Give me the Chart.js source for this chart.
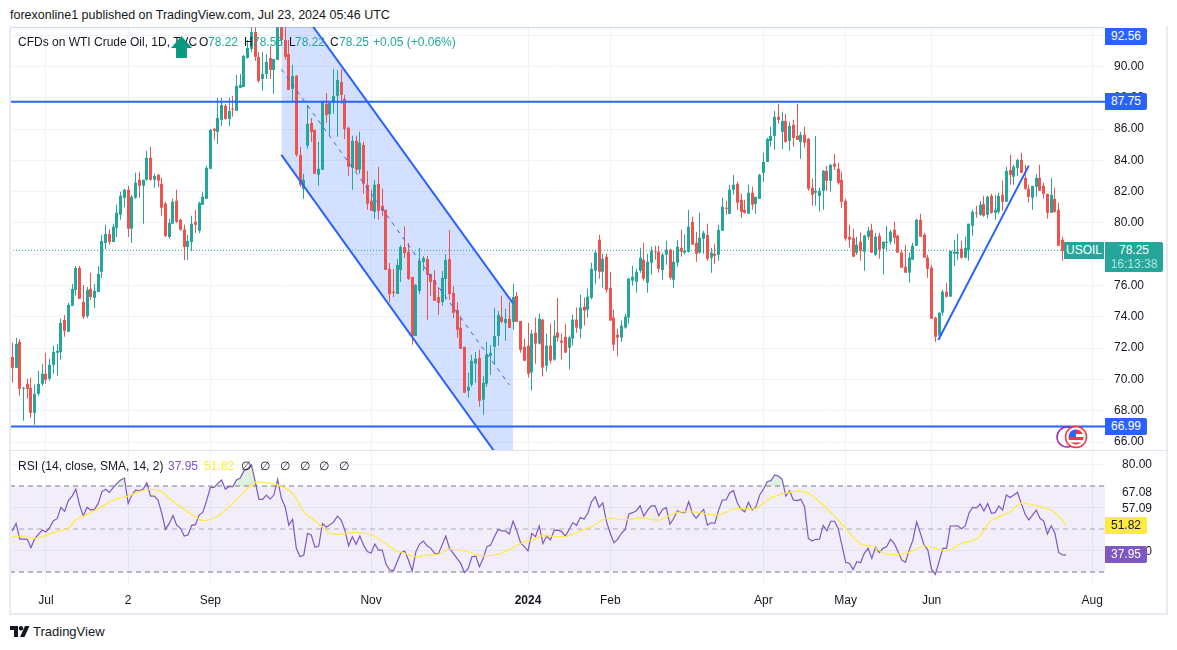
<!DOCTYPE html>
<html>
<head>
<meta charset="utf-8">
<title>USOIL</title>
<script src="https://cdn.jsdelivr.net/npm/chart.js@4"></script>
<style>
    html, body { margin: 0; padding: 0; background: #fff; }
    body { width: 1177px; height: 650px; position: relative; overflow: hidden; font-family: 'Liberation Sans', sans-serif; font-size: 12px; color: #131722; }
    canvas { position: absolute; left: 0; }
    .txt { position: absolute; white-space: nowrap; line-height: 16px; }
    .badge { position: absolute; left: 1105px; width: 42px; height: 17px; line-height: 17px; text-align: center; border-radius: 0 2px 2px 0; color: #fff; }
    .frame { position: absolute; background: #e9ebf2; }
</style>
</head>
<body>
<canvas id="priceChart" style="top:27px"></canvas>
<canvas id="rsiChart" style="top:451px"></canvas>

<div class="frame" style="left:9px;top:26px;width:2px;height:589px"></div>
<div class="frame" style="left:1166px;top:26px;width:2px;height:589px"></div>
<div class="frame" style="left:9px;top:613px;width:1159px;height:2px"></div>
<div class="frame" style="left:9px;top:450px;width:1159px;height:1px;background:#e0e3eb"></div>

<div class="txt" style="left:10px;top:7px;font-size:12.5px">forexonline1 published on TradingView.com, Jul 23, 2024 05:46 UTC</div>

<div class="txt" style="left:18px;top:34px">CFDs on WTI Crude Oil, 1D, TVC</div>
<div style="position:absolute;left:171px;top:36px;width:21px;height:22px;background:#089981;clip-path:polygon(50% 0,100% 55%,76% 55%,76% 100%,24% 100%,24% 55%,0 55%)"></div>
<div class="txt" style="left:199px;top:34px">O</div><div class="txt" style="left:208px;top:34px;color:#26a69a">78.22</div>
<div class="txt" style="left:244px;top:34px">H</div><div class="txt" style="left:253px;top:34px;color:#26a69a">78.56</div>
<div class="txt" style="left:289px;top:34px">L</div><div class="txt" style="left:295px;top:34px;color:#26a69a">78.22</div>
<div class="txt" style="left:330px;top:34px">C</div><div class="txt" style="left:339px;top:34px;color:#26a69a">78.25</div>
<div class="txt" style="left:373px;top:34px;color:#26a69a">+0.05 (+0.06%)</div>

<div class="txt" style="left:18px;top:458px">RSI (14, close, SMA, 14, 2)</div>
<div class="txt" style="left:168px;top:458px;color:#7e57c2">37.95</div>
<div class="txt" style="left:204px;top:458px;color:#ffeb3b">51.82</div>
<div class="txt" style="left:241px;top:458px">∅</div>
<div class="txt" style="left:260px;top:458px">∅</div>
<div class="txt" style="left:280px;top:458px">∅</div>
<div class="txt" style="left:300px;top:458px">∅</div>
<div class="txt" style="left:319px;top:458px">∅</div>
<div class="txt" style="left:339px;top:458px">∅</div>

<div id="usoilLabel" class="txt" style="left:1064px;width:40px;height:17px;line-height:17px;text-align:center;background:#26a69a;color:#fff">USOIL</div>
<div id="lastBadge" style="position:absolute;left:1105px;width:58px;height:30px;background:#26a69a;color:#fff;text-align:center;border-radius:0 2px 2px 0;line-height:14px;padding-top:1px;box-sizing:border-box">
    <div id="lastPriceText"></div>
    <div style="color:#b4e3de">16:13:38</div>
</div>

<svg style="position:absolute;left:1054px;top:424px" width="36" height="26" viewBox="0 0 36 26">
    <circle cx="13" cy="13" r="10" fill="#fff" stroke="#9c27b0" stroke-width="1.5"/>
    <circle cx="22" cy="13" r="10.5" fill="#fff" stroke="#f23645" stroke-width="1.5"/>
    <circle cx="22" cy="13" r="7.5" fill="#f23645"/>
    <rect x="14.5" y="10" width="15" height="3" fill="#fff"/>
    <rect x="15" y="16" width="14" height="2.5" fill="#fff"/>
    <path d="M14.5 13 A7.5 7.5 0 0 1 22 5.5 V13 Z" fill="#2962ff"/>
</svg>

<svg style="position:absolute;left:10px;top:626px" width="20" height="12" viewBox="0 0 20 12">
    <path d="M0 0H8V11H4V4H0Z" fill="#131722"/>
    <circle cx="11" cy="2.2" r="2.2" fill="#131722"/>
    <path d="M15 0H19.5L14.5 11H10Z" fill="#131722"/>
</svg>
<div class="txt" style="left:33px;top:624px;font-size:13px;font-weight:500">TradingView</div>

<script>
const opens = [
    71.44,70.74,72.40,69.40,69.72,69.46,67.87,69.08,69.72,70.36,
    70.04,70.93,71.70,71.76,73.80,73.04,74.70,75.72,77.12,74.95,
    74.06,75.78,75.21,75.59,76.87,78.72,79.3,78.78,79.69,80.52,
    81.61,82.12,79.63,81.61,82.76,82.37,82.76,84.16,82.76,83.07,
    82.5,81.23,79.1,79.95,81.42,80.2,79.57,78.47,78.78,80.08,
    79.5,81.16,81.54,83.46,86.01,85.82,86.58,87.48,86.65,87.29,
    87.16,88.63,88.69,90.54,91.12,92.2,90.61,89.2,89.52,90.54,
    89.78,90.42,92.5,91.69,90.8,88.57,89.4,84.35,82.18,84.93,
    86.39,85.95,83.08,83.4,87.61,86.95,87.67,88.12,89.01,87.93,
    86.08,83.52,85.25,83.4,84.99,82.44,81.42,80.71,82.5,81.1,
    80.84,77.06,75.6,75.46,77.0,78.46,78.15,76.55,72.78,75.66,
    77.51,77.7,76.74,76.36,75.27,74.95,76.42,77.7,75.53,74.44,
    73.3,72.08,69.27,69.66,71.0,71.38,68.7,69.72,71.51,72.08,
    72.78,74.0,73.61,73.87,73.68,75.34,73.74,72.08,72.15,70.44,
    72.99,72.29,73.82,70.88,72.16,71.27,72.99,72.48,72.73,72.03,
    72.61,73.82,73.24,74.65,74.46,75.22,76.95,78.93,76.88,77.84,
    75.86,73.95,72.86,72.67,73.31,73.95,76.31,76.24,76.95,77.65,
    76.18,77.46,78.22,78.16,76.99,77.97,78.29,76.37,77.46,78.41,
    78.1,78.16,80.07,78.73,78.1,78.99,79.24,77.78,78.03,77.97,
    79.5,80.97,80.58,82.12,82.5,81.48,80.84,80.59,81.93,81.22,
    81.54,83.2,83.9,85.24,85.56,86.78,85.82,86.52,85.24,86.27,
    85.56,85.18,85.63,85.37,82.24,81.93,81.73,82.05,83.33,82.69,
    83.78,83.46,82.76,81.41,79.12,79.05,78.1,78.8,78.16,79.12,
    79.56,77.97,79.18,78.35,78.73,78.8,79.56,79.18,78.1,77.2,
    76.82,77.65,78.54,80.2,79.24,77.78,77.14,73.95,72.8,74.27,
    75.61,75.29,78.03,78.03,78.35,77.78,78.29,79.82,80.65,80.52,
    81.22,80.52,81.73,80.65,80.71,81.8,81.35,83.39,82.95,83.52,
    84.03,82.88,82.18,81.61,82.31,82.88,82.37,81.86,80.65,81.54,
    80.84,78.93,78.22
];
const highs = [
    72.34,72.66,72.59,69.53,70.04,70.10,69.66,70.55,70.99,71.70,
    71.32,72.15,72.27,73.87,74.12,74.89,76.10,77.25,77.25,76.04,
    75.91,76.81,76.10,77.25,79.23,79.88,79.6,79.95,81.16,81.99,
    82.18,82.38,81.8,83.2,83.27,82.76,84.61,84.86,83.14,83.14,
    82.88,81.35,80.25,81.55,82.12,80.27,79.9,79.23,80.46,80.84,
    81.35,81.99,83.65,86.01,86.08,88.0,88.0,87.6,88.0,88.12,
    89.46,89.52,90.73,91.69,92.5,92.5,90.93,90.93,90.8,91.31,
    90.48,92.56,92.56,92.5,91.69,90.1,89.46,84.86,83.14,87.54,
    86.71,85.95,85.18,87.8,88.3,87.67,89.84,89.78,89.84,88.18,
    86.14,85.57,85.57,85.82,85.18,83.33,82.12,82.76,83.59,82.18,
    80.84,77.44,77.06,77.7,78.59,79.78,78.72,76.55,76.1,78.4,
    77.89,77.89,76.74,77.0,75.91,76.93,78.02,79.55,75.97,74.95,
    74.06,72.08,70.42,71.57,71.76,71.89,70.2,72.4,72.2,74.57,
    74.38,75.34,74.51,74.95,76.12,75.59,73.74,72.59,73.61,73.18,
    73.95,74.2,73.88,72.93,73.56,73.76,75.22,72.93,73.56,72.8,
    74.14,74.59,75.41,75.22,75.8,77.46,78.22,79.24,78.03,78.03,
    76.88,74.46,73.24,73.76,74.2,76.5,77.27,77.07,78.41,78.73,
    78.03,78.48,78.54,78.54,78.1,78.86,78.35,78.22,78.93,79.56,
    79.24,80.84,80.39,79.44,80.65,79.5,79.95,78.41,78.67,79.88,
    81.61,81.41,82.44,83.07,82.63,81.86,81.48,82.44,82.31,81.67,
    83.14,84.48,85.44,86.14,87.16,87.61,87.1,86.97,86.46,86.59,
    87.61,85.82,86.14,85.44,82.82,85.56,82.24,83.39,83.65,83.78,
    84.41,83.84,83.27,81.54,79.88,79.63,79.12,79.37,79.24,79.76,
    79.95,79.37,79.37,78.8,79.82,79.56,80.07,79.24,78.29,78.61,
    78.1,78.73,80.27,80.59,79.37,77.97,77.33,74.01,74.27,75.73,
    76.18,78.22,78.93,79.31,78.86,79.12,79.95,80.84,81.1,81.41,
    81.73,81.73,81.86,81.8,81.93,82.69,83.59,84.35,83.71,84.1,
    84.48,83.71,82.44,82.37,83.14,83.71,82.56,81.86,82.88,82.24,
    81.29,79.12,78.56
];
const lows = [
    69.78,70.74,68.95,67.36,68.76,67.55,67.10,68.95,69.59,69.72,
    69.91,70.36,70.23,71.25,72.72,73.04,74.70,75.34,75.15,73.87,
    73.93,75.08,74.57,75.59,76.49,78.34,78.6,78.78,79.1,80.2,
    81.0,79.1,78.72,81.54,81.6,79.95,82.7,82.7,82.25,82.3,
    80.46,79.1,78.98,79.95,80.0,79.5,77.63,77.63,78.21,79.37,
    79.36,81.16,81.54,83.46,85.31,85.06,86.2,86.6,86.2,86.78,
    87.16,88.63,88.69,90.5,90.9,90.35,88.95,88.44,89.2,89.2,
    88.25,90.42,91.3,90.42,88.5,87.76,84.22,82.3,81.54,84.74,
    85.18,83.14,82.37,83.4,86.4,85.63,86.97,85.5,87.61,85.37,
    83.01,82.12,83.27,83.14,81.86,80.84,80.78,80.27,80.2,80.46,
    77.0,74.95,75.27,75.46,76.23,77.76,76.36,72.21,72.78,75.46,
    76.93,73.8,75.34,75.02,74.12,74.7,75.1,75.08,73.93,72.66,
    71.95,69.15,68.83,69.53,69.78,68.25,67.74,69.53,70.3,70.93,
    72.15,73.61,72.47,73.29,73.18,73.68,71.7,71.19,70.1,69.29,
    71.0,72.23,70.18,70.5,71.0,71.2,72.4,71.27,71.71,70.63,
    72.16,72.99,72.61,73.44,73.95,75.1,76.12,76.44,75.86,75.54,
    73.76,71.84,71.46,72.41,73.24,73.56,75.99,75.54,76.82,76.31,
    75.54,76.69,77.65,76.82,76.37,77.33,76.37,75.86,77.2,77.84,
    77.97,78.1,78.61,77.52,78.03,78.03,77.59,76.82,77.39,77.59,
    79.5,80.52,80.58,81.8,80.84,80.33,80.59,80.59,80.84,80.59,
    81.54,82.63,83.9,84.86,84.67,86.33,84.73,85.12,84.61,84.86,
    85.31,84.1,84.8,82.05,81.1,81.1,80.71,80.84,82.05,82.0,
    83.39,82.44,80.97,78.86,78.41,77.84,77.97,77.59,76.95,78.93,
    78.1,77.9,77.71,76.69,78.16,78.61,78.67,78.1,77.14,76.82,
    76.18,77.65,78.54,79.12,77.78,76.5,73.88,72.41,72.8,74.07,
    75.22,75.29,77.27,77.65,77.71,77.78,77.59,79.18,80.33,80.46,
    80.39,80.27,80.59,80.2,80.59,80.78,81.35,82.44,82.44,83.0,
    83.2,82.12,81.29,80.84,81.67,82.05,81.54,80.27,80.65,80.65,
    78.54,77.59,78.22
];
const closes = [
    70.74,72.27,69.40,69.46,69.40,67.87,69.08,69.72,70.36,69.98,
    70.93,71.76,71.83,73.61,73.10,74.76,75.78,77.12,75.15,74.0,
    75.72,75.27,75.66,76.74,78.85,79.29,78.78,79.76,80.65,81.74,
    82.12,79.63,81.67,82.57,82.37,82.76,84.16,82.76,83.0,82.7,
    80.97,79.17,80.0,81.35,80.08,79.57,78.47,78.85,79.95,79.88,
    81.29,81.67,83.52,85.95,85.89,86.71,87.54,86.65,87.16,87.23,
    88.76,88.82,90.67,91.18,92.2,90.61,89.08,89.52,90.29,89.78,
    90.48,92.5,91.69,90.61,88.5,89.4,84.35,82.44,82.76,86.33,
    85.82,83.14,83.46,87.8,86.9,87.67,88.12,89.14,88.18,86.0,
    83.59,85.25,83.4,85.12,82.5,81.23,80.78,82.44,80.78,80.78,
    77.0,75.46,75.53,77.32,78.46,78.08,76.42,72.78,76.04,77.57,
    77.76,76.68,76.23,75.02,74.89,76.49,77.64,75.46,74.25,73.17,
    71.95,69.15,69.53,71.19,71.32,68.64,69.78,71.57,71.7,72.78,
    74.12,73.68,73.87,73.29,75.27,73.68,71.89,71.19,70.36,72.93,
    72.29,73.88,70.76,72.16,71.2,72.8,72.67,72.35,71.71,72.67,
    73.82,73.31,74.59,74.39,75.29,77.07,78.1,76.88,77.71,75.73,
    73.76,72.22,72.67,73.44,74.01,76.44,76.56,76.88,77.78,76.44,
    77.52,78.2,78.16,77.07,77.97,78.29,76.5,77.52,78.48,78.16,
    78.22,79.76,78.61,78.03,79.05,79.37,77.71,78.1,77.9,79.56,
    81.03,80.9,82.12,82.44,81.29,80.71,80.65,81.93,81.16,81.67,
    83.07,83.9,85.37,85.56,86.78,86.59,86.52,85.18,86.2,85.44,
    85.31,85.63,85.12,82.18,81.8,82.05,82.05,83.33,82.69,83.71,
    83.59,82.56,81.35,78.99,78.93,77.84,78.61,78.22,79.18,79.5,
    78.1,79.12,78.29,78.8,78.8,79.44,79.05,78.1,77.14,76.82,
    77.78,78.54,80.2,79.12,77.78,77.07,73.88,72.73,74.27,75.61,
    75.29,78.22,78.16,78.16,77.78,78.41,79.95,80.71,80.59,81.16,
    80.46,81.67,80.65,80.84,81.73,81.35,83.33,83.07,83.59,84.03,
    83.2,82.18,81.67,82.37,82.88,82.05,81.86,80.65,81.8,80.71,
    78.54,78.2,78.25
];

const rsiValues = [
    49.1,52.6,45.3,45.3,45.2,41.3,45.5,47.5,49.5,48.6,
    50.6,53.9,54.8,60.1,58.2,63.2,65.3,68.5,61.2,56.0,
    60.1,58.8,59.1,61.9,67.4,68.5,67.0,69.2,71.2,72.8,
    73.7,61.9,65.8,68.1,67.8,68.5,71.5,65.3,65.3,63.5,
    57.3,49.8,52.6,56.3,51.8,50.3,46.7,47.2,51.7,52.0,
    56.5,57.8,63.2,69.4,69.4,71.2,72.8,68.6,69.7,69.7,
    72.8,73.7,77.1,78.1,79.8,72.0,63.8,63.8,65.8,63.9,
    65.8,73.1,64.3,60.4,51.8,54.5,41.0,37.1,37.9,48.0,
    47.2,41.5,42.1,52.6,50.8,52.0,53.3,56.0,54.2,49.5,
    42.2,46.4,42.9,46.7,42.5,39.5,38.7,43.0,40.2,40.2,
    33.7,30.9,30.6,34.8,39.0,39.8,35.6,30.5,39.5,43.0,
    44.4,42.2,41.0,38.7,38.4,42.5,46.7,41.0,38.7,36.3,
    34.0,29.7,31.7,37.1,37.4,32.5,36.3,41.8,42.5,46.4,
    49.8,49.1,49.1,47.7,53.7,49.2,43.6,41.8,39.8,48.0,
    46.4,51.4,43.3,46.7,44.9,49.4,49.5,48.8,46.7,49.8,
    52.9,51.7,55.3,54.6,57.3,62.7,65.0,60.1,62.2,53.4,
    48.0,43.6,45.2,48.0,49.8,57.0,57.6,58.5,60.8,56.0,
    58.8,60.8,60.8,56.2,59.1,59.9,52.2,55.0,58.5,57.7,
    57.6,62.7,57.3,55.0,57.3,59.1,51.8,52.9,52.6,58.8,
    63.5,63.5,66.9,67.8,62.2,59.1,58.0,62.4,58.8,60.4,
    65.8,68.5,72.0,72.5,75.1,74.6,73.1,65.3,67.8,63.5,
    63.2,63.8,60.4,45.7,44.4,45.2,45.3,51.7,49.2,53.6,
    53.6,50.3,42.5,34.5,34.0,31.2,34.8,34.3,38.7,41.0,
    36.3,41.5,39.1,41.0,41.8,45.2,43.3,39.5,35.6,34.5,
    40.2,44.9,53.3,48.0,42.5,40.2,31.2,28.9,34.8,41.0,
    41.0,51.4,51.4,51.5,50.1,51.4,57.3,60.1,59.8,61.6,
    58.4,61.9,57.3,57.6,60.7,58.8,65.8,64.6,65.8,67.0,
    61.9,57.0,54.2,56.5,58.8,55.0,53.7,47.7,51.5,48.0,
    39.1,37.9,37.95
];

const rsiMaIndexes = [
    0,3,6,11,15,17,20,24,27,31,34,37,40,42,45,49,51,54,57,59,62,65,67,71,75,78,82,85,88,92,96,100,103,
    104,108,111,114,117,121,125,130,133,137,139,142,148,152,155,159,164,168,173,178,182,189,193,199,202,206,
    212,217,221,227,230,234,240,244,250,254,258,260,262,267,270,275,279,282
];
const rsiMaValues = [
    46.4,46.7,45.6,48.3,50.3,54.2,56.8,60.4,63.5,65.3,67.4,68.5,67.4,64.3,60.4,55.7,53.9,55.0,58.8,61.9,67.4,71.7,71.7,70.5,66.6,58.1,52.3,48.0,47.5,48.4,47.2,43.3,39.5,
    39.3,37.1,37.9,38.2,40.5,39.9,37.6,38.2,40.5,44.1,44.9,46.9,46.4,49.2,51.1,55.0,54.2,55.3,54.2,57.7,58.0,56.5,59.3,59.6,63.5,66.3,
    67.4,61.2,54.2,43.0,42.1,38.2,39.1,42.1,39.8,43.3,45.2,49.5,53.9,58.0,61.9,60.4,57.7,51.82
];

const timeTickIndexes = [9, 31, 53, 96, 138, 160, 201, 223, 246, 289];
const timeTickLabels = ['Jul', '2', 'Sep', 'Nov', '2024', 'Feb', 'Apr', 'May', 'Jun', 'Aug'];

const rsiTickValues = [80, 67.08, 59.4, 39.3];
const rsiTickLabels = ['80.00', '67.08', '57.09', '47.10'];
const rsiGridLevels = [80, 60, 40];

const lastPrice = 78.25;
const rsiLast = 37.95;
const rsiMaLast = 51.82;
const priceLevels = [92.56, 87.75, 66.99];

const channelIndexes = [72, 134];
const channelUpper = [95.35, 74.86];
const channelLower = [84.35, 63.73];
const channelMidIndexes = [72, 133];
const channelMid = [89.82, 69.65];
const trendIndexes = [247.8, 272];
const trendValues = [72.52, 83.66];

const xMin = -0.615;
const xMax = 292.4;
const GREEN = '#26a69a';
const RED = '#ef5350';
const BLUE = '#2962ff';
const GRID = '#f0f3fa';
const FONT = "'Liberation Sans', sans-serif";

function toPoints(xs, ys) {
    return xs.map((x, i) => ({ x, y: ys[i] }));
}

function flatLine(value, options) {
    return Object.assign({
        type: 'line',
        data: [{ x: xMin, y: value }, { x: xMax, y: value }],
        pointRadius: 0,
        borderWidth: 1,
        fill: false
    }, options);
}

function timeAxis(showLabels, height) {
    return {
        type: 'linear',
        min: xMin,
        max: xMax,
        offset: false,
        border: { display: false },
        grid: { color: GRID, drawTicks: false, offset: false },
        afterBuildTicks(scale) {
            scale.ticks = timeTickIndexes.map((value) => ({ value }));
        },
        afterFit(scale) {
            scale.height = height;
            scale.paddingLeft = 0;
            scale.paddingRight = 0;
        },
        ticks: {
            display: showLabels,
            autoSkip: false,
            maxRotation: 0,
            padding: 7,
            color: '#131722',
            font: (ctx) => ({ family: FONT, size: 12, weight: ctx.tick && ctx.tick.value === 138 ? 'bold' : 'normal' }),
            callback: (value, index) => timeTickLabels[index]
        }
    };
}

// TradingView keeps candles on whole pixels, the bar element does not
const snapBars = {
    id: 'snapBars',
    afterDatasetsUpdate(chart) {
        chart.getSortedVisibleDatasetMetas().forEach((meta) => {
            if (meta.type !== 'bar') return;
            meta.data.forEach((bar) => {
                bar.x = Math.round(bar.x - 0.5) + 0.5;
            });
        });
    }
};

Chart.defaults.animation = false;
Chart.defaults.font.family = FONT;

const candleColors = closes.map((close, i) => (close >= opens[i] ? GREEN : RED));
const wickData = closes.map((close, i) => ({ x: i, y: [lows[i], highs[i]] }));
const bodyData = closes.map((close, i) => ({ x: i, y: [opens[i], close] }));

function setupCanvas(id, width, height) {
    const canvas = document.getElementById(id);
    canvas.width = width;
    canvas.height = height;
    canvas.style.width = width + 'px';
    canvas.style.height = height + 'px';
    return canvas;
}

const priceChart = new Chart(setupCanvas('priceChart', 1177, 423), {
    type: 'bar',
    plugins: [snapBars],
    data: {
        datasets: [
            {
                type: 'line', data: toPoints(channelIndexes, channelUpper), borderWidth: 0, pointRadius: 0,
                fill: '+1', backgroundColor: 'rgba(41,98,255,0.2)', order: 9
            },
            { type: 'line', data: toPoints(channelIndexes, channelLower), borderWidth: 0, pointRadius: 0, fill: false, order: 9 },
            flatLine(lastPrice, { borderColor: GREEN, borderDash: [1, 2], order: 8 }),
            { data: wickData, backgroundColor: candleColors, barThickness: 1, grouped: false, inflateAmount: 0, order: 6 },
            { data: bodyData, backgroundColor: candleColors, barThickness: 3, grouped: false, inflateAmount: 0, minBarLength: 1, order: 5 },
            {
                type: 'line', data: toPoints(channelMidIndexes, channelMid), borderColor: BLUE, borderWidth: 1,
                borderDash: [4, 5], pointRadius: 0, fill: false, order: 3
            },
            { type: 'line', data: toPoints(channelIndexes.slice(), channelUpper), borderColor: BLUE, borderWidth: 2, pointRadius: 0, fill: false, order: 2 },
            { type: 'line', data: toPoints(channelIndexes.slice(), channelLower), borderColor: BLUE, borderWidth: 2, pointRadius: 0, fill: false, order: 2 },
            { type: 'line', data: toPoints(trendIndexes, trendValues), borderColor: BLUE, borderWidth: 2, pointRadius: 0, fill: false, order: 2 },
            ...priceLevels.map((level) => flatLine(level, { borderColor: BLUE, borderWidth: 2, order: 1 }))
        ]
    },
    options: {
        responsive: false,
        layout: { padding: { left: 10, right: 10, top: 0, bottom: 0 } },
        plugins: { legend: { display: false }, tooltip: { enabled: false } },
        scales: {
            x: timeAxis(false, 0),
            y: {
                position: 'right',
                min: 65.49,
                max: 92.52,
                beginAtZero: false,
                border: { display: false },
                grid: { color: GRID, drawTicks: false },
                afterFit(scale) {
                    scale.width = 62;
                    scale.paddingTop = 0;
                    scale.paddingBottom = 0;
                },
                ticks: {
                    stepSize: 2,
                    includeBounds: false,
                    padding: 9,
                    color: '#131722',
                    font: { family: FONT, size: 12 },
                    callback: (value) => value.toFixed(2)
                }
            }
        }
    }
});

const rsiPoints = rsiValues.map((value, i) => ({ x: i, y: value }));
const rsiMaPoints = toPoints(rsiMaIndexes, rsiMaValues);

const rsiChart = new Chart(setupCanvas('rsiChart', 1177, 163), {
    type: 'line',
    data: {
        datasets: [
            flatLine(70, { borderColor: '#787b86', borderDash: [5, 4], fill: '+1', backgroundColor: 'rgba(126,87,194,0.1)', order: 6 }),
            flatLine(30, { borderColor: '#787b86', borderDash: [5, 4], order: 6 }),
            flatLine(50, { borderColor: 'rgba(120,123,134,0.6)', borderDash: [5, 4], order: 5 }),
            ...rsiGridLevels.map((level) => flatLine(level, { borderColor: GRID, order: 7 })),
            {
                data: rsiPoints, borderColor: '#7e57c2', borderWidth: 1.2, pointRadius: 0, order: 2,
                fill: { target: { value: 70 }, above: 'rgba(76,175,80,0.18)', below: 'transparent' }
            },
            { data: rsiMaPoints, borderColor: '#ffeb3b', borderWidth: 1.2, pointRadius: 0, tension: 0.3, fill: false, order: 1 }
        ]
    },
    options: {
        responsive: false,
        layout: { padding: { left: 10, right: 10, top: 0, bottom: 0 } },
        plugins: { legend: { display: false }, tooltip: { enabled: false } },
        scales: {
            x: timeAxis(true, 28),
            y: {
                position: 'right',
                min: 23.49,
                max: 86.28,
                border: { display: false },
                grid: { display: false },
                afterBuildTicks(scale) {
                    scale.ticks = rsiTickValues.map((value) => ({ value }));
                },
                afterFit(scale) {
                    scale.width = 62;
                    scale.paddingTop = 0;
                    scale.paddingBottom = 0;
                },
                ticks: {
                    autoSkip: false,
                    padding: 9,
                    color: '#131722',
                    font: { family: FONT, size: 12 },
                    callback: (value, index) => rsiTickLabels[index]
                }
            }
        }
    }
});

function addBadge(chart, canvasTop, value, background, color, minTop) {
    const badge = document.createElement('div');
    badge.className = 'badge';
    badge.textContent = value.toFixed(2);
    badge.style.background = background;
    badge.style.color = color;
    const top = canvasTop + chart.scales.y.getPixelForValue(value) - 8.5;
    badge.style.top = Math.max(top, minTop) + 'px';
    document.body.appendChild(badge);
}

priceLevels.forEach((level) => addBadge(priceChart, 27, level, BLUE, '#fff', 28));
addBadge(rsiChart, 451, rsiMaLast, '#ffeb3b', '#131722', 0);
addBadge(rsiChart, 451, rsiLast, '#7e57c2', '#fff', 0);

const lastY = 27 + priceChart.scales.y.getPixelForValue(lastPrice);
document.getElementById('usoilLabel').style.top = (lastY - 8.5) + 'px';
document.getElementById('lastBadge').style.top = (lastY - 8.5) + 'px';
document.getElementById('lastPriceText').textContent = lastPrice.toFixed(2);
</script>
</body>
</html>
